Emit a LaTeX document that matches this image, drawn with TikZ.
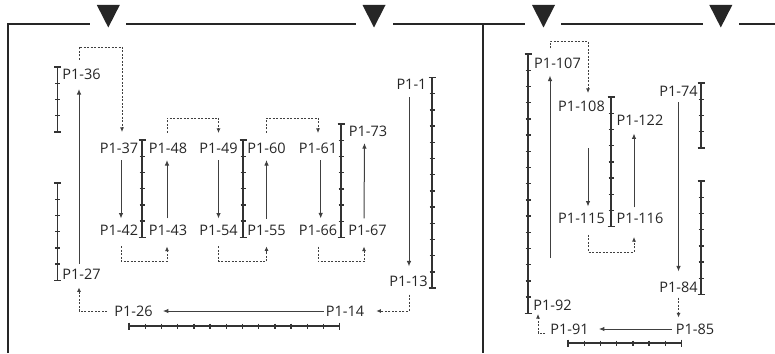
\documentclass[tikz,border=0pt]{standalone}
\usepackage{fontspec}
\setmainfont{Open Sans}
\usepackage{tikz}
\usetikzlibrary{arrows.meta}

\begin{document}
\begin{tikzpicture}[
    x=1pt, y=-1pt,
    font=\fontsize{14.5}{16}\selectfont,
    lbl/.style={inner sep=0pt, text=black!85},
    frame/.style={line width=2pt, black!85},
    bar/.style={line width=1.4pt, black!80},
    arr/.style={-{Latex[length=5.5pt,width=4.5pt]}, line width=1pt, black!75,
                shorten <=6pt, shorten >=6pt},
    dsh/.style={-{Latex[length=4.5pt,width=4pt]}, line width=0.85pt, black!75,
                dash pattern=on 2pt off 1.5pt}
  ]
    \useasboundingbox (0,0) rectangle (775,353);

    %% ── Frame and feed markers
    \draw[frame] (7.5,353) -- (7.5,24) -- (90,24);
    \draw[frame] (126,24) -- (356,24);
    \draw[frame] (393,24) -- (525,24);
    \draw[frame] (482.8,24) -- (482.8,353);
    \draw[frame] (561,24) -- (703,24);
    \draw[frame] (739,24) -- (775,24);
    \foreach \tx in {108.3, 374, 543.5, 720.8}
      \fill[black!85] (\tx-11.5,5) -- (\tx+11.5,5) -- (\tx,27.5) -- cycle;

    %% ── Pin rows (vertical)
    \foreach \bx/\by/\bn in {57.5/67/4, 57.5/183/6, 142/140/6, 243/140/6, 341/124/7,
                             432/77.5/13, 528/54/16, 611/97/8, 701/83/4, 701/181/7} {
      \draw[bar] (\bx,\by) -- (\bx,\by+\bn*16.2);
      \foreach \k in {0,...,\bn}
        \draw[bar] (\bx-2.5,\by+\k*16.2) -- (\bx+2.5,\by+\k*16.2);
      \draw[bar] (\bx-3.5,\by) -- (\bx+3.5,\by) (\bx-3.5,\by+\bn*16.2) -- (\bx+3.5,\by+\bn*16.2);
    }
    %% ── Pin rows (horizontal)
    \foreach \bx/\by/\bn in {129/326/13, 568/343/7} {
      \draw[bar] (\bx,\by) -- (\bx+\bn*16.2,\by);
      \foreach \k in {0,...,\bn}
        \draw[bar] (\bx+\k*16.2,\by-2.5) -- (\bx+\k*16.2,\by+2.5);
      \draw[bar] (\bx,\by-3.5) -- (\bx,\by+3.5) (\bx+\bn*16.2,\by-3.5) -- (\bx+\bn*16.2,\by+3.5);
    }

    %% ── Left block labels
    \node[lbl] (p36) at (81.5, 74.5) {P1-36};
    \node[lbl] (p27) at (81.5, 274)  {P1-27};
    \node[lbl] (p37) at (119, 148.5) {P1-37};
    \node[lbl] (p48) at (168, 148.5) {P1-48};
    \node[lbl] (p49) at (218.5, 148.5) {P1-49};
    \node[lbl] (p60) at (266.5, 148.5) {P1-60};
    \node[lbl] (p61) at (318, 148.5) {P1-61};
    \node[lbl] (p73) at (368, 131.5) {P1-73};
    \node[lbl] (p42) at (119, 230) {P1-42};
    \node[lbl] (p43) at (168, 230) {P1-43};
    \node[lbl] (p54) at (218.5, 230) {P1-54};
    \node[lbl] (p55) at (266.5, 230) {P1-55};
    \node[lbl] (p66) at (318, 230) {P1-66};
    \node[lbl] (p67) at (367.5, 230) {P1-67};
    \node[lbl] (p1)  at (411.5, 84.5) {P1-1};
    \node[lbl] (p13) at (408.5, 281) {P1-13};
    \node[lbl] (p26) at (133.5, 311) {P1-26};
    \node[lbl] (p14) at (345, 311) {P1-14};

    %% ── Right block labels
    \node[lbl] (p107) at (557.5, 63) {P1-107};
    \node[lbl] (p108) at (581.5, 106.5) {P1-108};
    \node[lbl] (p122) at (640, 120.5) {P1-122};
    \node[lbl] (p74)  at (678.5, 91.5) {P1-74};
    \node[lbl] (p115) at (581.5, 218.5) {P1-115};
    \node[lbl] (p116) at (640, 218.5) {P1-116};
    \node[lbl] (p84)  at (678.5, 287) {P1-84};
    \node[lbl] (p92)  at (552.5, 305.5) {P1-92};
    \node[lbl] (p91)  at (569.5, 329) {P1-91};
    \node[lbl] (p85)  at (695, 329) {P1-85};

    %% Free ends of the short runs
    \coordinate (u107) at (550, 258);
    \coordinate (d108) at (588, 148);

    %% Arrows: left block
    \draw[arr, shorten <=5pt, shorten >=9pt] ([xshift=-2.5pt]p27.north) -- ([xshift=-2.5pt]p36.south);
    \draw[arr] ([xshift=2pt]p37.south) -- ([xshift=2pt]p42.north);
    \draw[arr] ([xshift=-1pt]p43.north) -- ([xshift=-1pt]p48.south);
    \draw[arr] (p49) -- (p54);
    \draw[arr] (p55) -- (p60);
    \draw[arr] ([xshift=2.7pt]p61.south) -- ([xshift=2.7pt]p66.north);
    \draw[arr] ([xshift=-3.5pt]p67.north) -- ([xshift=-3.5pt]p73.south);
    \draw[arr, shorten <=7.5pt, shorten >=9pt] ([xshift=-2.5pt]p1.south) -- ([xshift=0.5pt]p13.north);
    \draw[arr, shorten <=2pt, shorten >=10pt] (p14.west) -- (p26.east);

    %% Arrows: right block
    \draw[arr, shorten <=0pt, shorten >=7pt] (u107) -- (u107 |- p107.south);
    \draw[arr, shorten <=0pt, shorten >=6.5pt] (d108) -- (d108 |- p115.north);
    \draw[arr, shorten <=5.5pt, shorten >=7.5pt] ([xshift=-6pt]p116.north) -- ([xshift=-6pt]p122.south);
    \draw[arr, shorten <=5.5pt, shorten >=10pt] (p74) -- (p74 |- p84.north);
    \draw[arr, shorten <=4pt, shorten >=10pt] (p85.west) -- (p91.east);

    %% Dotted hand-overs: left block
    \draw[dsh] ([xshift=-2.5pt,yshift=9pt]p36.north) -- ++(0,-13) -| ([xshift=3pt,yshift=11pt]p37.north);
    \draw[dsh] ([xshift=-1pt,yshift=10pt]p48.north) -- ++(0,-15) -| ([yshift=10pt]p49.north);
    \draw[dsh] ([yshift=10pt]p60.north) -- ++(0,-15) -| ([yshift=10pt]p61.north);
    \draw[dsh] ([xshift=2pt,yshift=-11pt]p42.south) -- ++(0,15) -| ([xshift=-1pt,yshift=-11pt]p43.south);
    \draw[dsh] ([yshift=-11pt]p54.south) -- ++(0,15) -| ([yshift=-11pt]p55.south);
    \draw[dsh] ([yshift=-11pt]p66.south) -- ++(0,15) -| ([xshift=-3.5pt,yshift=-11pt]p67.south);
    \draw[dsh] ([xshift=0.5pt,yshift=-8pt]p13.south) |- ([xshift=12pt]p14.east);
    \draw[dsh] ([xshift=-7pt]p26.west) -| ([xshift=-2.5pt,yshift=-8pt]p27.south);

    %% Dotted hand-overs: right block
    \draw[dsh] ([xshift=-7.5pt,yshift=9pt]p107.north) -- ++(0,-7) -| ([xshift=6.5pt,yshift=8pt]p108.north);
    \draw[dsh] ([xshift=6.5pt,yshift=-11pt]p115.south) -- ++(0,17) -| ([xshift=-6pt,yshift=-13pt]p116.south);
    \draw[dsh, shorten >=6pt] ([yshift=-5pt]p84.south) -- (p84.south |- p85.north);
    \draw[dsh] ([xshift=-5pt,yshift=-4pt]p91.west) -| ([xshift=-14.5pt,yshift=-3pt]p92.south);

  \end{tikzpicture}
\end{document}
